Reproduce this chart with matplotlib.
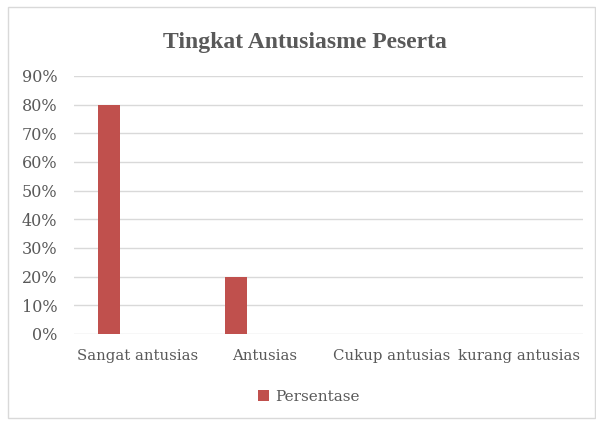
import numpy as np
import matplotlib.pyplot as plt
from matplotlib.patches import Rectangle

categories = ["Sangat antusias", "Antusias", "Cukup antusias", "kurang antusias"]
persentase = [0.80, 0.20, 0.0, 0.0]
yticks = [0, 0.1, 0.2, 0.3, 0.4, 0.5, 0.6, 0.7, 0.8, 0.9]

plt.rcParams['font.family'] = ['DejaVu Serif']
grey = '#595959'

fig = plt.figure(figsize=(5.96, 4.21), dpi=100)
ax = fig.add_axes([0.124, 0.2067, 0.854, 0.6128])

x = np.arange(len(categories))
ax.bar(x - 0.225, persentase, width=0.173, color='#c0504d', label='Persentase', zorder=3)

ax.set_xlim(-0.5, len(categories) - 0.5)
ax.set_ylim(0, 0.9)
ax.set_yticks(yticks)
ax.set_yticklabels([f"{int(round(v*100))}%" for v in yticks], color=grey, fontsize=11.5)
ax.set_xticks(x)
ax.set_xticklabels(categories, color=grey, fontsize=10.7)
ax.tick_params(axis='y', length=0, pad=12)
ax.tick_params(axis='x', length=0, pad=11)
ax.grid(axis='y', color='#d9d9d9', linewidth=1, zorder=0)
for s in ax.spines.values():
    s.set_visible(False)

fig.text(0.512, 0.9, "Tingkat Antusiasme Peserta", ha='center', va='center',
         fontsize=17, fontweight='bold', color=grey, family='Liberation Serif')

fig.legend(loc='center', bbox_to_anchor=(0.518, 0.057), frameon=False, fontsize=11,
           handlelength=0.7, handleheight=0.7, handletextpad=0.4, labelcolor=grey)

fig.patches.append(Rectangle((8/596, 3/421), 1 - 8/596 - 0.002, 1 - 7/421 - 3/421,
                             transform=fig.transFigure, fill=False,
                             edgecolor='#d9d9d9', linewidth=1))

fig.savefig("out.png", dpi=100)
